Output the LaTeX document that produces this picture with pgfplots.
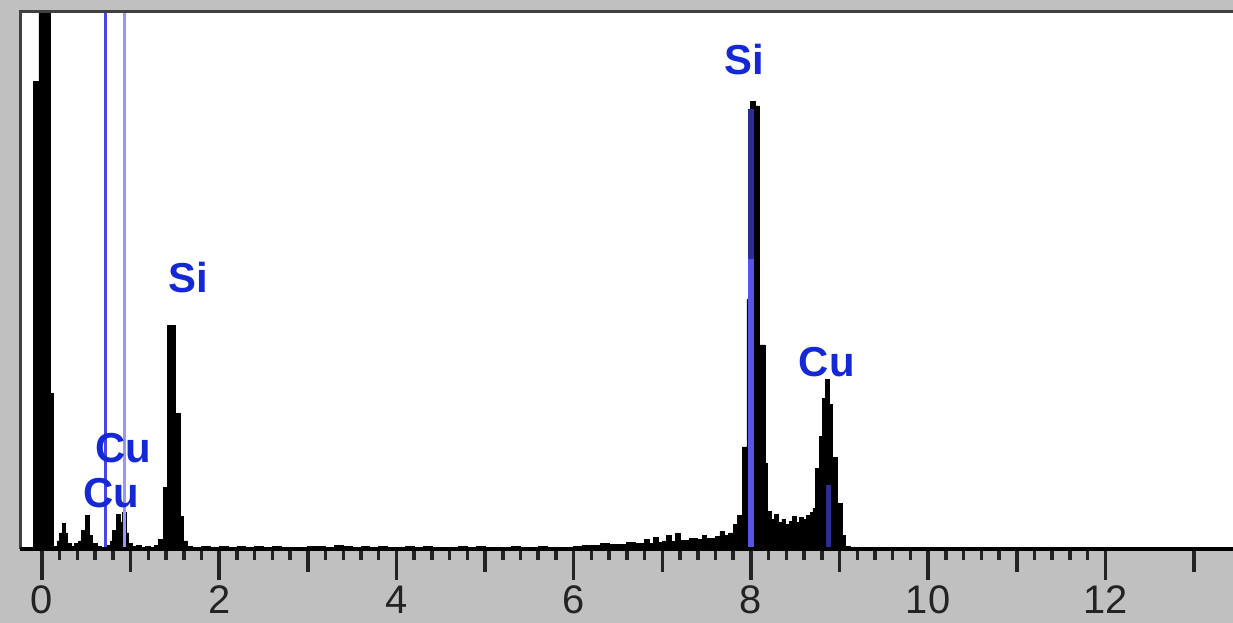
\documentclass[border=0pt]{standalone}
\usepackage{fontspec}
\setmainfont{Liberation Sans}
\usepackage{pgfplots}
\pgfplotsset{compat=1.18}
\definecolor{bggray}{RGB}{192,192,192}
\definecolor{framegray}{RGB}{64,64,64}
\definecolor{ticktext}{RGB}{35,35,35}
\definecolor{lblue}{RGB}{20,40,215}
\definecolor{lineA}{RGB}{70,70,228}
\definecolor{lineB}{RGB}{150,150,255}
\definecolor{lineK}{RGB}{85,85,232}
\definecolor{lineKd}{RGB}{45,45,150}
\begin{document}
\begin{tikzpicture}
\path[use as bounding box] (-8bp,-29.6bp) rectangle (485.2bp,219.6bp);
\fill[bggray] (-8bp,-29.6bp) rectangle (485.2bp,219.6bp);
\begin{axis}[
  at={(0,0)}, anchor=south west,
  scale only axis, width=485.2bp, height=214.8bp,
  xmin=-0.248, xmax=13.44, ymin=0, ymax=100,
  axis background/.style={fill=white},
  axis line style={draw=none},
  clip mode=individual,
  ytick=\empty,
  xtick={0,2,...,12},
  minor x tick num=9,
  extra x ticks={1,3,5,7,9,11,13},
  extra x tick labels={},
  extra x tick style={major tick length=9.2bp},
  tick align=outside,
  xtick pos=bottom,
  major tick length=12.4bp,
  minor tick length=4.4bp,
  every tick/.style={ticktext, line width=1.4bp},
  /pgf/number format/assume math mode=true,
  xticklabel style={font=\fontsize{16}{16}\selectfont, text=ticktext, yshift=1.2bp},
]
\addplot[fill=black, draw=black, line width=0.3bp, const plot] coordinates {
(-0.248,0) (-0.10,87) (-0.035,110) (0.09,29) (0.13,0.5) (0.17,1.5) (0.20,3) (0.23,4.8)
(0.26,3) (0.29,1) (0.33,0.5) (0.37,1.0) (0.41,1.5) (0.45,3.5) (0.49,6.3) (0.53,2.5)
(0.57,1) (0.62,0.4) (0.67,0.3) (0.72,0.6) (0.77,1.5) (0.80,3.5) (0.84,6.5) (0.88,5)
(0.91,6.8) (0.95,3) (0.98,1.0) (1.02,0.4) (1.07,0.6) (1.12,0.3) (1.17,0.5) (1.22,0.3)
(1.27,0.6) (1.31,1.7) (1.37,11.5) (1.42,41.7) (1.51,25.3) (1.56,6) (1.60,1.5) (1.64,0.4)
(1.70,0.3) (1.80,0.5) (1.90,0.2) (2.00,0.4) (2.10,0.3) (2.20,0.5) (2.30,0.3) (2.40,0.45)
(2.50,0.2) (2.60,0.4) (2.70,0.3) (2.80,0.35) (2.90,0.2) (3.00,0.4) (3.10,0.5) (3.20,0.3)
(3.30,0.7) (3.40,0.4) (3.50,0.3) (3.60,0.45) (3.70,0.3) (3.80,0.4) (3.90,0.2) (4.00,0.35)
(4.10,0.5) (4.20,0.3) (4.30,0.4) (4.40,0.2) (4.50,0.35) (4.60,0.3) (4.70,0.5) (4.80,0.3)
(4.90,0.4) (5.00,0.2) (5.10,0.35) (5.20,0.3) (5.30,0.55) (5.40,0.35) (5.50,0.3) (5.60,0.4)
(5.70,0.3) (5.80,0.35) (5.90,0.3) (6.00,0.45) (6.10,0.7) (6.20,0.6) (6.30,1.0) (6.40,0.8)
(6.50,0.9) (6.60,1.2) (6.70,1.0) (6.80,1.7) (6.85,1.1) (6.90,2.2) (6.95,1.3) (7.00,1.5)
(7.05,2.5) (7.10,1.4) (7.15,2.9) (7.20,1.6) (7.30,1.9) (7.40,1.7) (7.45,2.5) (7.50,2.0)
(7.60,2.3) (7.65,3.2) (7.70,2.5) (7.75,3.0) (7.80,4.5) (7.85,6.3) (7.90,19) (7.955,46.5)
(7.99,83.3) (8.05,82.5) (8.10,38) (8.16,16) (8.19,7) (8.23,5.5) (8.27,6.5) (8.31,5)
(8.35,5.5) (8.39,4.5) (8.43,5.2) (8.47,6) (8.51,5) (8.55,5.8) (8.59,5.5) (8.63,6.2)
(8.67,6.8) (8.70,7.5) (8.73,15) (8.77,21) (8.81,28) (8.84,31.6) (8.89,27) (8.92,17)
(8.97,8.5) (9.03,2.6) (9.07,0.5) (9.12,0) (13.44,0)
} \closedcycle;
% Cu L marker lines (full height)
\addplot[lineA, line width=1.2bp] coordinates {(0.72,0) (0.72,100)};
\addplot[lineB, line width=1.2bp] coordinates {(0.93,0) (0.93,100)};
% K marker lines inside the peaks
\addplot[lineK, line width=2.2bp] coordinates {(8.0,0) (8.0,54)};
\addplot[lineKd, line width=2.2bp] coordinates {(8.0,54) (8.0,82)};
\addplot[lineKd, line width=2bp] coordinates {(8.87,0) (8.87,12)};
% frame
\draw[framegray, line width=1.2bp] (rel axis cs:0,0) -- (rel axis cs:0,1) -- (rel axis cs:1,1);
\draw[black, line width=1.3bp] (rel axis cs:0,0) -- (rel axis cs:1,0);
% labels
\begin{scope}[every node/.style={font=\fontsize{16.8}{17}\selectfont\bfseries, text=lblue, inner sep=0pt}]
\node at (axis cs:0.914,18.8) {Cu};
\node at (axis cs:0.779,10.4) {Cu};
\node at (axis cs:1.647,50.5) {Si};
\node at (axis cs:7.921,91.2) {Si};
\node at (axis cs:8.857,34.8) {Cu};
\end{scope}
\end{axis}
\end{tikzpicture}
\end{document}
